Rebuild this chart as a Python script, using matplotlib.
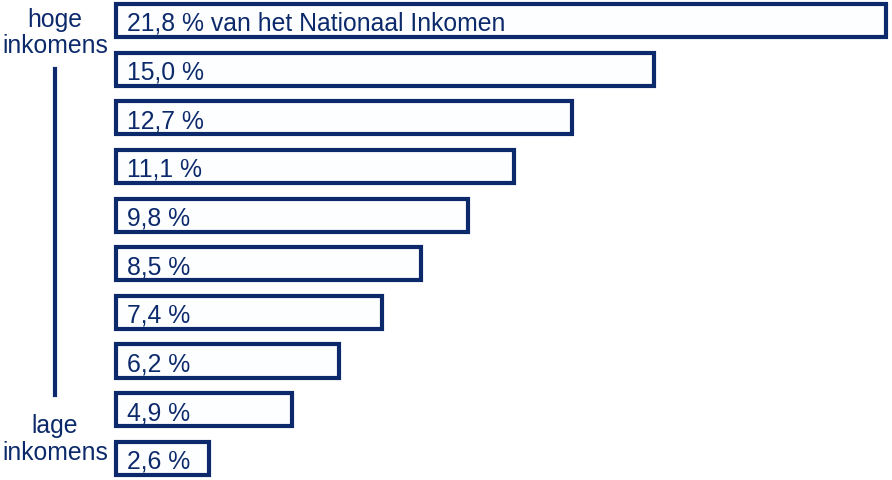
import numpy as np
import matplotlib
matplotlib.use("Agg")
import matplotlib.pyplot as plt

plt.rcParams['font.family'] = ['Liberation Sans', 'DejaVu Sans']

values = [21.8, 15.0, 12.7, 11.1, 9.8, 8.5, 7.4, 6.2, 4.9, 2.6]
labels = ["21,8 % van het Nationaal Inkomen", "15,0 %", "12,7 %", "11,1 %", "9,8 %",
          "8,5 %", "7,4 %", "6,2 %", "4,9 %", "2,6 %"]
side_top = ["hoge", "inkomens"]
side_bottom = ["lage", "inkomens"]

navy = "#0c2a6b"
fill = "#fdfeff"
W, H = 892, 480
fs = 17.8

fig = plt.figure(figsize=(W / 100, H / 100), dpi=100)
ax = fig.add_axes([0, 0, 1, 1])
ax.set_xlim(-3.231, 21.616)
ax.set_ylim(9.446, -0.422)
ax.axis("off")

# longest bar runs past the frame, so it is cut off at the edge
xcap = 21.46
shown = np.minimum(values, xcap)
pos = np.arange(len(values))
ax.barh(pos, shown, height=0.68, color=fill, edgecolor=navy, linewidth=3.0)

for y, lab in zip(pos, labels):
    ax.text(0.3, y + 0.215, lab, color=navy, fontsize=fs, va="baseline", ha="left")

def fx(px):
    return px / W

def fy(py):
    return 1 - py / H

for txt, py in zip(side_top, [27, 53]):
    fig.text(fx(55), fy(py), txt, color=navy, fontsize=fs, ha="center", va="baseline")
for txt, py in zip(side_bottom, [433, 460]):
    fig.text(fx(55), fy(py), txt, color=navy, fontsize=fs, ha="center", va="baseline")
fig.add_artist(plt.Line2D([fx(55), fx(55)], [fy(69), fy(395)], color=navy, linewidth=3.0))

fig.savefig("out.png", dpi=100, facecolor="white")
